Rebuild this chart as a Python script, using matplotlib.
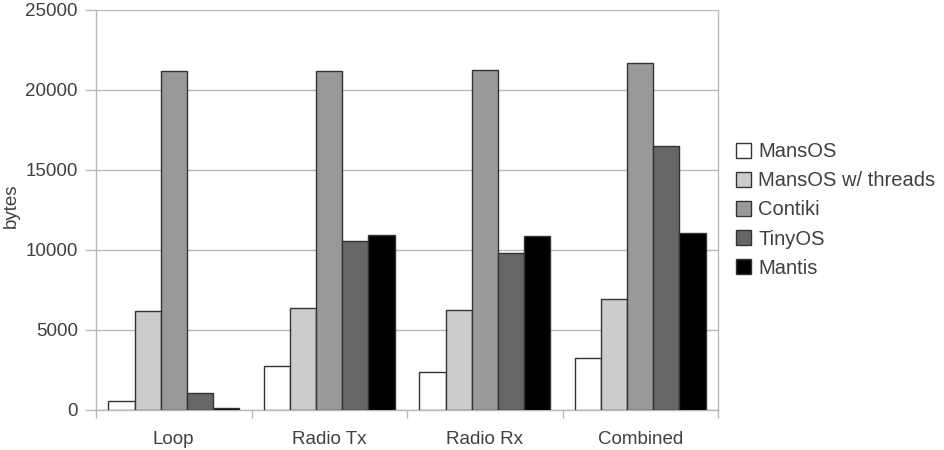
import matplotlib
matplotlib.use("Agg")
import matplotlib.pyplot as plt
import numpy as np

categories = ["Loop", "Radio Tx", "Radio Rx", "Combined"]
series = ["MansOS", "MansOS w/ threads", "Contiki", "TinyOS", "Mantis"]
mansos = [560, 2750, 2380, 3250]
mansos_threads = [6200, 6380, 6250, 6940]
contiki = [21200, 21200, 21250, 21700]
tinyos = [1080, 10560, 9800, 16500]
mantis = [100, 10950, 10900, 11080]
values = [mansos, mansos_threads, contiki, tinyos, mantis]
colors = ["#ffffff", "#cccccc", "#999999", "#666666", "#000000"]

TXT = "#404040"
GRID = "#b8b8b8"

plt.rcParams.update({"font.family": ["Liberation Sans", "DejaVu Sans"], "font.size": 13.5})

fig = plt.figure(figsize=(9.44, 4.5), dpi=100)
ax = fig.add_axes([96 / 944, 40 / 450, 622 / 944, 400 / 450])

x = np.arange(len(categories))
bw = 0.168
for i, (name, vals, c) in enumerate(zip(series, values, colors)):
    ax.bar(x + (i - 2) * bw, vals, bw, color=c, edgecolor="#333333",
           linewidth=1.0, label=name, zorder=3)

ax.set_xlim(-0.5, len(categories) - 0.5)
ax.set_ylim(0, 25000)
ax.set_yticks(range(0, 25001, 5000))
ax.yaxis.grid(True, color=GRID, linewidth=1.0, zorder=0)

# category boundary ticks on the x axis
ax.set_xticks(np.arange(-0.5, len(categories)), minor=False)
ax.set_xticklabels([])
ax.set_xticks(x, minor=True)
ax.set_xticklabels(categories, minor=True)
ax.tick_params(axis="x", which="major", length=6, color=GRID, width=1)
ax.tick_params(axis="x", which="minor", length=0, pad=15, labelcolor=TXT, labelsize=13.5)
ax.tick_params(axis="y", length=8, color=GRID, width=1, labelcolor=TXT, labelsize=13.5, pad=5)

ax.spines["top"].set_visible(False)
for s in ["left", "bottom", "right"]:
    ax.spines[s].set_color(GRID)
    ax.spines[s].set_linewidth(1.0)

ax.set_ylabel("bytes", color=TXT, fontsize=13.5)
ax.yaxis.set_label_coords(-0.123, 0.51)

leg = ax.legend(loc="center left", bbox_to_anchor=(1.01, 0.50), frameon=False,
                handlelength=0.75, handleheight=0.75, handletextpad=0.35,
                labelspacing=0.5, fontsize=14.5, labelcolor=TXT,
                borderaxespad=0.2)
for h in leg.legend_handles:
    h.set_linewidth(1.0)

fig.savefig("out.png", dpi=100)
